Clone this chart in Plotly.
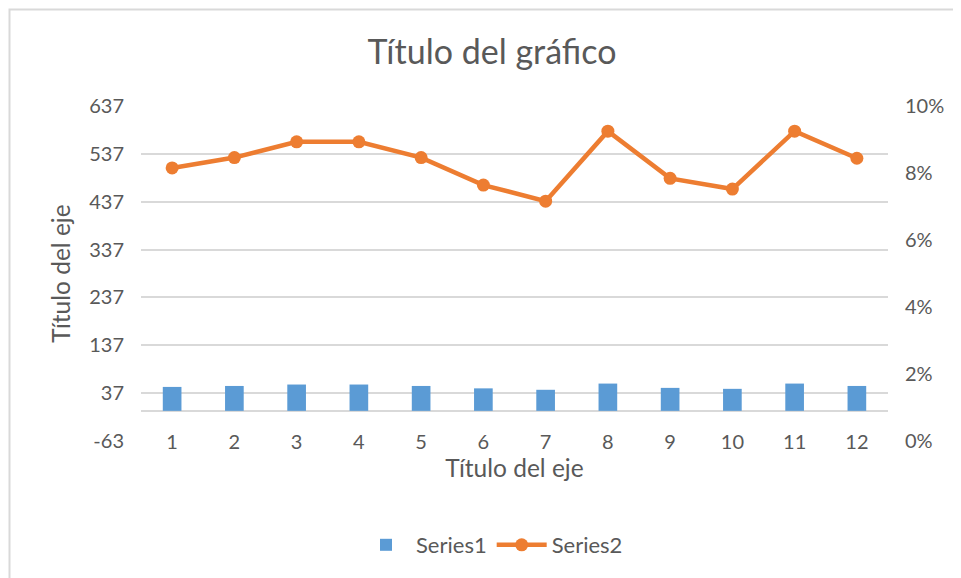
import plotly.graph_objects as go

# values
categories = [str(i) for i in range(1, 13)]
series1 = [50, 52, 55, 55, 52, 47, 44, 57, 48, 46, 57, 52]
series2 = [0.0815, 0.0846, 0.0893, 0.0893, 0.0846, 0.0764, 0.0716,
           0.0925, 0.0784, 0.0752, 0.0925, 0.0844]

left_ticks = [-63, 37, 137, 237, 337, 437, 537, 637]
left_labels = ["-63", "37", "137", "237", "337", "437", "537", "637"]
right_ticks = [0, 0.02, 0.04, 0.06, 0.08, 0.10]

FONT = "Lato"
GREY = "#595959"
GRID = "#D9D9D9"

fig = go.Figure()
fig.add_trace(go.Bar(x=categories, y=series1, name="Series1",
                     marker=dict(color="#5B9BD5", line=dict(width=0)), yaxis="y"))
fig.add_trace(go.Scatter(x=categories, y=series2, name="Series2", mode="lines+markers",
                         line=dict(color="#ED7D31", width=4.5),
                         marker=dict(color="#ED7D31", size=13), yaxis="y2"))

# the page body has an 8px margin, so the figure is drawn 8px in from the window edge
OFF = 8
W, H = 961 - OFF, 578 - OFF
L, T = 141 - OFF, 106 - OFF
R, B = 961 - 888, 578 - 441
pw, ph = W - L - R, H - T - B

fig.update_layout(
    width=W, height=H,
    margin=dict(l=L, r=R, t=T, b=B),
    paper_bgcolor="white", plot_bgcolor="white",
    font=dict(family=FONT, color=GREY, size=20),
    bargap=0.7,
    title=dict(text="Título del gráfico", x=(492 - OFF) / W, xanchor="center", xref="container",
               y=1 - (52 - OFF) / H, yanchor="middle", yref="container",
               font=dict(size=34, color=GREY, family=FONT)),
    xaxis=dict(type="category", range=[-0.5, 11.5], showgrid=False, showline=False,
               ticks="", ticklabelstandoff=-13, tickfont=dict(size=20, color=GREY),
               title=dict(text="Título del eje", font=dict(size=24.5, color=GREY), standoff=6)),
    yaxis=dict(range=[-63, 637], tickvals=left_ticks, ticktext=left_labels,
               showgrid=True, gridcolor=GRID, gridwidth=1.5,
               zeroline=True, zerolinecolor=GRID, zerolinewidth=1.5,
               showline=False, ticks="", ticklabelstandoff=16,
               tickfont=dict(size=20, color=GREY),
               title=dict(text="Título del eje", font=dict(size=24.5, color=GREY), standoff=11)),
    yaxis2=dict(range=[0, 0.10], tickvals=right_ticks, tickformat=".0%", overlaying="y",
                side="right", showgrid=False, zeroline=False, showline=False, ticks="",
                ticklabelstandoff=16, tickfont=dict(size=20, color=GREY)),
    legend=dict(orientation="h", x=(492 - OFF) / W, xanchor="center", xref="container",
                y=1 - (545 - OFF) / H, yanchor="middle", yref="container",
                font=dict(size=22, color=GREY), itemwidth=50),
    shapes=[dict(type="rect", xref="paper", yref="paper",
                 x0=(1.5 - L) / pw, x1=(W + 20 - L) / pw,
                 y0=(H - B - (H + 20)) / ph, y1=(H - B - 1.5) / ph,
                 line=dict(color=GRID, width=2), fillcolor="rgba(0,0,0,0)", layer="below")],
)

fig.write_html("out.html")
